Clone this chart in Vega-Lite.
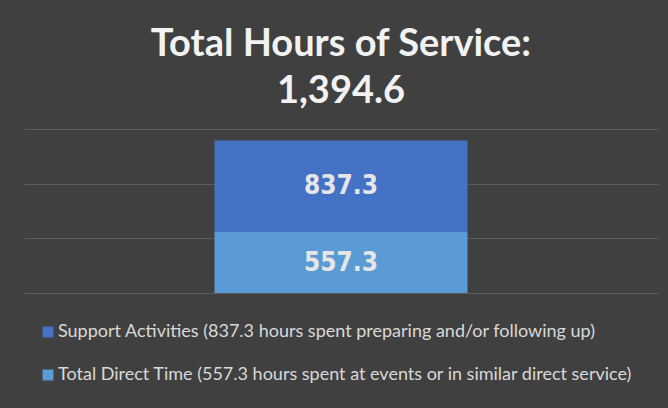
{
  "$schema": "https://vega.github.io/schema/vega-lite/v6.json",
  "autosize": "none",
  "width": 634,
  "height": 164,
  "padding": {"left": 24, "top": 129, "right": 10, "bottom": 115},
  "background": "#404040",
  "title": {
    "text": ["Total Hours of Service:", "1,394.6"],
    "font": "Lato",
    "fontSize": 38,
    "fontWeight": "bold",
    "color": "#f2f2f2",
    "lineHeight": 47,
    "anchor": "middle",
    "offset": 18
  },
  "data": {
    "values": [
      {"Series": "Support Activities (837.3 hours spent preparing and/or following up)", "Group": "Total", "Hours": 837.3},
      {"Series": "Total Direct Time (557.3 hours spent at events  or in similar direct service)", "Group": "Total", "Hours": 557.3}
    ]
  },
  "encoding": {
    "x": {"field": "Group", "type": "nominal", "axis": null},
    "order": {"field": "Series", "sort": "descending"}
  },
  "layer": [
    {
      "mark": {"type": "bar", "size": 253},
      "encoding": {
        "y": {"field": "Hours", "type": "quantitative", "stack": "zero",
              "scale": {"domain": [0, 1500], "nice": false, "zero": true},
              "axis": {"values": [0, 500, 1000, 1500], "labels": false, "ticks": false, "domain": false, "title": null, "grid": true, "gridColor": "#5c5c5c", "gridWidth": 1}},
        "color": {"field": "Series", "type": "nominal",
          "scale": {"domain": ["Support Activities (837.3 hours spent preparing and/or following up)", "Total Direct Time (557.3 hours spent at events  or in similar direct service)"], "range": ["#4472c4", "#5b9bd5"]},
          "legend": {"orient": "none", "legendX": 15, "legendY": 194, "title": null, "symbolType": "square", "symbolSize": 120, "symbolStrokeWidth": 0, "symbolOpacity": 1, "labelFont": "Lato", "labelFontSize": 18, "labelColor": "#d9d9d9", "labelLimit": 0, "rowPadding": 25, "labelOffset": 1}}
      }
    },
    {
      "mark": {"type": "text", "font": "'DejaVu Sans Condensed', 'DejaVu Sans', sans-serif", "fontWeight": "bold", "fontSize": 26, "color": "#e6e6e6", "baseline": "middle"},
      "encoding": {
        "y": {"field": "Hours", "type": "quantitative", "stack": "zero", "bandPosition": 0.5},
        "text": {"field": "Hours", "type": "quantitative", "format": ".1f"}
      }
    }
  ],
  "config": {"view": {"stroke": null}}
}
